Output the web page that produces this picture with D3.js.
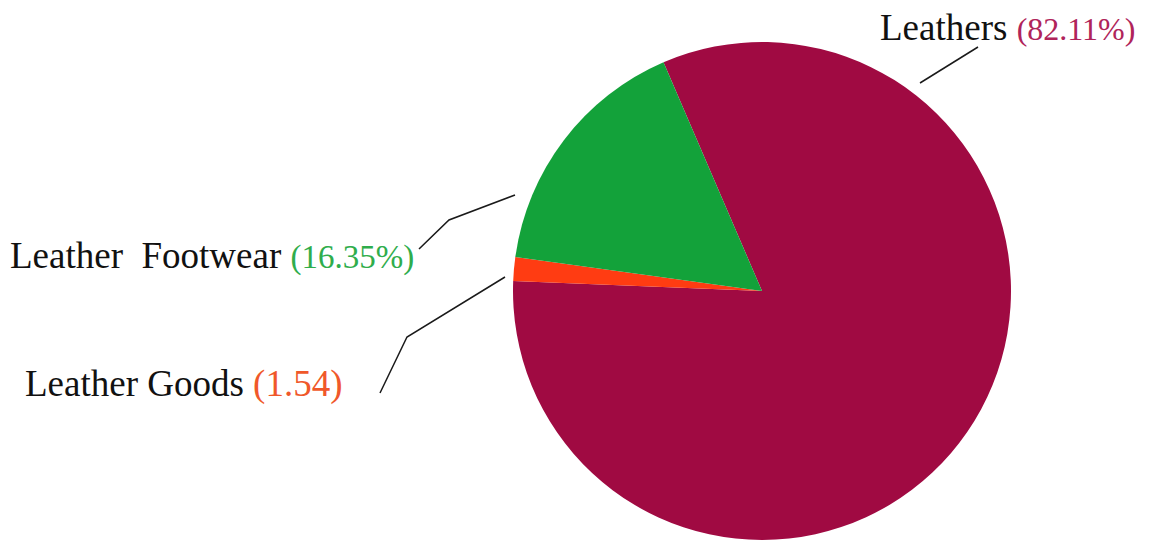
<!DOCTYPE html>
<html>
<head>
<meta charset="utf-8">
<script src="https://cdn.jsdelivr.net/npm/d3@7"></script>
<style>
  html, body { margin: 0; padding: 0; background: #fff; }
  svg { display: block; }
</style>
</head>
<body>
<svg id="chart" width="1156" height="542"></svg>
<script>
// Export shares by product group (%)
const categories = ["Leathers", "Leather Goods", "Leather  Footwear"];
const shares = [82.11, 1.54, 16.35];
const shareLabels = ["(82.11%)", "(1.54)", "(16.35%)"];
const sliceColors = ["#a00a42", "#ff3c12", "#13a23a"];
const labelColors = ["#b0245a", "#f0582a", "#2fad4c"];

const width = 1156, height = 542;
const cx = 762, cy = 291, radius = 249;
const startDeg = -23.3;

const svg = d3.select("#chart");

const data = categories.map((c, i) => ({ name: c, value: shares[i], i }));

const pie = d3.pie()
  .value(d => d.value)
  .sort(null)
  .startAngle(startDeg * Math.PI / 180)
  .endAngle(startDeg * Math.PI / 180 + 2 * Math.PI);

const arc = d3.arc().innerRadius(0).outerRadius(radius);

const g = svg.append("g").attr("transform", `translate(${cx},${cy})`);
g.selectAll("path.slice")
  .data(pie(data))
  .join("path")
  .attr("class", "slice")
  .attr("d", arc)
  .attr("fill", d => sliceColors[d.data.i]);

// label placement: text anchor point and leader polyline per category
const labelLayout = [
  { x: 880, y: 40, size: 37, pctSize: 32,
    leader: [[920, 83], [978, 47]] },
  { x: 25, y: 396, size: 37, pctSize: 37,
    leader: [[380, 393], [407, 337], [505, 277]] },
  { x: 10, y: 268, size: 37, pctSize: 33,
    leader: [[419, 249], [449, 220], [515, 195]] }
];

const line = d3.line();
const labels = svg.append("g")
  .attr("font-family", "'Liberation Serif', 'Times New Roman', serif");

data.forEach((d, i) => {
  const L = labelLayout[i];
  svg.append("path")
    .attr("d", line(L.leader))
    .attr("fill", "none")
    .attr("stroke", "#1a1a1a")
    .attr("stroke-width", 1.5);

  const t = labels.append("text")
    .attr("x", L.x).attr("y", L.y)
    .attr("xml:space", "preserve")
    .style("white-space", "pre");
  t.append("tspan")
    .attr("font-size", L.size)
    .attr("fill", "#111")
    .text(d.name + " ");
  t.append("tspan")
    .attr("font-size", L.pctSize)
    .attr("fill", labelColors[i])
    .text(shareLabels[i]);
});
</script>
</body>
</html>
